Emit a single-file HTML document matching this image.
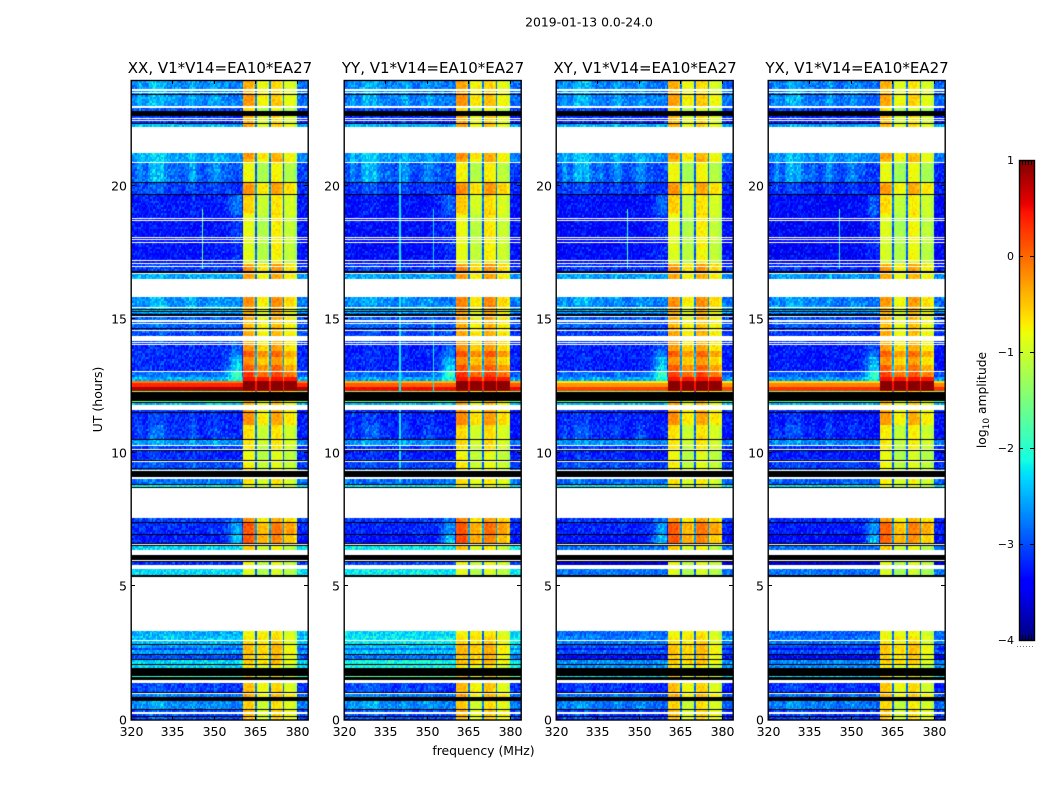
<!DOCTYPE html>
<html>
<head>
<meta charset="utf-8">
<title>2019-01-13 0.0-24.0</title>
<style>
html,body{margin:0;padding:0;background:#fff;}
#figure{position:relative;width:1050px;height:800px;overflow:hidden;background:#fff;font-family:"DejaVu Sans","Liberation Sans",sans-serif;}
canvas{position:absolute;display:block;}
svg{position:absolute;left:0;top:0;}
svg text{font-family:"DejaVu Sans","Liberation Sans",sans-serif;fill:#000;}
</style>
</head>
<body>
<div id="figure">
<svg id="overlay" width="1050" height="800">
<text x="589" y="26.5" font-size="12.4" text-anchor="middle">2019-01-13 0.0-24.0</text>
<text transform="translate(102,399.5) rotate(-90)" font-size="12.5" text-anchor="middle">UT (hours)</text>
<text x="483.5" y="755" font-size="12.4" text-anchor="middle">frequency (MHz)</text>
<text transform="translate(986,400) rotate(-90)" font-size="12.3" text-anchor="middle">log<tspan font-size="9" dy="3">10</tspan><tspan dy="-3"> amplitude</tspan></text>
</svg>
</div>
<script>
// ---- Chart data ----
const polarizations = ["XX", "YY", "XY", "YX"];
const baselineLabel = "V1*V14=EA10*EA27";
const xTicks = [320, 335, 350, 365, 380];
const yTicks = [0, 5, 10, 15, 20];
const colorTicks = [1, 0, -1, -2, -3, -4];
const freqRange = [320, 384];
const timeRange = [0, 23.95];
const colorRange = [-4, 1];

// Flagged time spans (hours) shown white
const whiteSpans = [[0.243,0.281],[0.955,0.993],[1.367,1.479],[2.978,3.004],[3.315,5.348],[5.663,5.787],[5.963,6.0],[6.161,6.375],[6.547,6.584],[7.547,8.670],[9.007,9.082],[9.307,9.345],[9.644,9.682],[10.094,10.131],[10.243,10.281],[11.592,11.779],[13.015,13.052],[14.015,14.052],[14.101,14.139],[14.165,14.363],[14.551,14.588],[14.813,14.839],[14.888,14.963],[15.075,15.112],[15.419,15.461],[15.813,16.498],[16.685,16.723],[16.948,16.985],[17.06,17.097],[17.172,17.21],[17.846,17.884],[17.959,17.985],[18.034,18.071],[18.67,18.708],[18.745,18.783],[20.843,20.869],[21.217,22.191],[22.416,22.453],[22.491,22.528],[22.903,22.978],[23.464,23.502],[23.539,23.596]];
// Time spans (hours) shown black
const blackSpans = [[0.105,0.142],[0.356,0.393],[0.704,0.854],[0.993,1.041],[1.479,1.603],[1.64,1.94],[2.067,2.105],[2.255,2.292],[2.416,2.453],[2.816,2.854],[5.348,5.412],[5.91,5.963],[6.0,6.161],[6.509,6.547],[6.584,6.622],[6.936,6.974],[7.386,7.423],[8.67,8.719],[8.809,8.846],[9.082,9.307],[9.382,9.419],[9.682,9.719],[10.056,10.094],[10.468,10.506],[11.479,11.517],[11.854,11.891],[11.936,12.277],[14.614,14.663],[15.112,15.187],[15.262,15.3],[15.337,15.375],[16.723,16.798],[19.644,19.682],[20.105,20.131],[22.303,22.33],[22.614,22.801],[23.393,23.416]];

// Amplitude segments in time: start hour and levels (log10 amplitude)
const levelStart = [0,.4,.85,1.04,1.55,1.9,2.1,2.25,2.45,2.6,2.7,2.85,3.13,3.17,5.4,5.79,6.38,6.62,6.97,7.42,8.72,8.85,9.34,9.72,10.13,10.28,10.5,11.0,11.52,11.78,11.85,12.28,12.46,12.6,12.67,12.85,13.05,13.3,13.55,13.8,14.05,14.66,15.19,15.46,16.5,16.8,17.1,18.9,19.68,20.13,20.87,22.19,22.33,22.8,22.98,23.42];
const levelLow = [-3.05,-2.8,-2.8,-3.15,-1.9,-2.3,-2.3,-3.0,-2.6,-3.0,-2.6,-2.4,-3.0,-2.5,-2.3,-3.15,-2.3,-3.25,-3.15,-3.05,-2.2,-2.8,-3.05,-3.25,-3.15,-2.7,-3.25,-3.25,-3.1,-2.4,-1.5,.8,.35,-.1,-2.5,-2.9,-3.2,-3.2,-3.2,-3.2,-3.05,-2.95,-2.4,-2.75,-2.6,-3.15,-3.3,-3.3,-3.15,-3.05,-2.7,-2.5,-3.15,-3.05,-2.8,-2.8];
const levelHigh = [-.75,-.85,-.65,-.75,-.85,-.95,-.7,-.7,-.65,-.65,-.65,-.8,-.85,-.9,-1.05,-.95,-.9,-.3,-.3,-.6,-1,-.85,-.95,-1,-.9,-.85,-.85,-.5,-.7,-.7,-.7,.95,.95,.95,.45,.05,-.15,-.45,-.15,-.5,-.6,-.65,-.7,-.5,-.6,-.5,-1.0,-.85,-.5,-1.0,-.6,-.7,-.75,-1,-.65,-.75];
const levelRipple = [.2,.4,.2,.3,0,0,0,0,0,0,0,0,0,0,0,0,0,0,0,0,0,0,.2,.2,.2,.3,.5,.3,0,0,0,0,0,0,0,.2,.1,.1,.1,.1,.1,.2,0,.4,.2,.2,0,.1,.3,.8,.5,.2,.1,.2,.5,.5];
const levelRamp = [0,0,0,0,0,0,0,0,0,0,0,0,0,0,0,0,0,.9,.6,.3,0,0,0,0,0,0,0,0,0,0,0,0,0,0,.5,1.1,1.0,.8,.5,.3,.1,0,0,0,0,0,.2,.5,0,0,0,0,0,0,0,0];

// Per-MHz spectral shapes starting at 320 MHz
const rippleSpectrum = [.1,.2,.5,.6,.3,.2,.6,.8,.9,.7,.8,.9,.5,.3,.2,.3,.4,.2,.1,.2,.3,.6,.7,.4,.2,.1,.1,.2,.3,.4,.6,.5,.3,.2,.3,.1,.1,.1,.1,.1];
const rampSpectrum = [0,0,0,0,0,0,0,0,0,0,0,0,0,0,0,0,0,0,0,0,0,0,0,0,0,0,0,0,0,0,0,0,.05,.1,.2,.45,.75,.95,1,.9];
// Per-MHz shape of the strong band, 360 to 379 MHz
const highSpectrum = [.15,.2,.2,.2,.05,-.2,-.05,-.1,-.05,-.2,.05,.15,.15,.15,.05,-.2,-.1,-.1,-.1,-.3];
// Hour-by-hour offset of each 5 MHz sub-band
const hourSub1 = [.1,.1,0,-.1,0,-.05,.2,.2,0,0,0,.1,0,.05,.05,.1,.1,-.1,-.05,.1,0,.15,.15,.2];
const hourSub2 = [-.1,.05,.15,.2,0,-.1,0,-.05,0,-.05,-.1,-.1,0,0,-.05,-.15,-.1,-.05,-.1,-.1,-.15,0,-.1,0];
const hourSub3 = [.05,.05,.1,.05,0,-.05,0,.1,0,-.05,.05,.05,0,.05,.05,.15,.1,.1,.15,.05,.1,.05,0,0];
const hourSub4 = [.05,-.05,0,.05,0,0,-.1,.1,0,0,0,-.05,0,-.05,0,0,-.05,.05,.05,0,-.05,-.1,-.05,-.05];
const gapFreqs = [365, 370, 375];
const gapLevel = -2.75;
const bandEdges = [360.4, 380];

// Per-polarization offsets
const lowOffsetUnder1h5 = [0, 0, -.1, -.1];
const lowOffset1h5To3h5 = [0, .2, -.35, -.4];
const lowOffset5To6h5 = [0, .1, -.5, -.5];
const lateLowOffset = [0, -.05, -.05, -.1];
const flareOffset = [0, -.25, -.55, -.4];
const highOffset = [0, .05, 0, -.05];

// Narrow-band interference: polarization index, MHz, start hour, end hour, level
const rfiPol = [0, 1, 1, 1, 2, 3];
const rfiFreq = [345.6, 339.9, 351.8, 351.8, 345.6, 345.6];
const rfiStart = [16.9, 8.9, 11.5, 16.9, 16.9, 16.9];
const rfiEnd = [19.1, 21.0, 15.0, 19.1, 19.1, 19.1];
const rfiLevel = [-1.6, -2.2, -2.2, -2.3, -1.9, -2.1];

// Hand-read speckle deviations, used as pixel texture
const speckle = [-.3,.1,-.2,.4,-.1,-.35,.25,0,-.25,.5,-.15,.05,-.4,.2,-.05,.35,-.3,.1,-.2,.6,-.1,-.35,.15,-.25,.3,0,-.4,.2,-.15,.45,-.05,-.3,.1,-.2,.25,-.35,.05,.55,-.1,-.25,.15,-.4,.3,0,-.2,.4,-.3,.1,-.15,.2,-.35,.5,-.05,-.25,.1,.3,-.4,0,-.1,.35,-.2,.15,-.3];

// ---- Axis functions ----
const panelLefts = [131, 344, 556, 768];
const panelWidth = 177;
const panelTop = 80;
const panelHeight = 640;
const cellMHz = 0.5;
const cellHours = 0.075;
const yOf = function (t) { return panelTop + panelHeight * (1 - (t - timeRange[0]) / (timeRange[1] - timeRange[0])); };
const xOf = function (f) { return panelWidth * (f - freqRange[0]) / (freqRange[1] - freqRange[0]); };
const colorY = function (v) { return 160 + 480 * (colorRange[1] - v) / (colorRange[1] - colorRange[0]); };

function ramp(x, pts) {
  for (let i = 1; i < pts.length; i++) {
    if (x <= pts[i][0]) {
      const a = pts[i - 1], b = pts[i];
      return a[1] + (b[1] - a[1]) * (x - a[0]) / (b[0] - a[0]);
    }
  }
  return pts[pts.length - 1][1];
}
function jet(v) {
  const t = Math.max(0, Math.min(1, (v - colorRange[0]) / (colorRange[1] - colorRange[0])));
  const r = ramp(t, [[0, 0], [.35, 0], [.66, 1], [.89, 1], [1, .5]]);
  const g = ramp(t, [[0, 0], [.125, 0], [.375, 1], [.64, 1], [.91, 0], [1, 0]]);
  const b = ramp(t, [[0, .5], [.11, 1], [.34, 1], [.65, 0], [1, 0]]);
  return "rgb(" + Math.round(r * 255) + "," + Math.round(g * 255) + "," + Math.round(b * 255) + ")";
}
function segmentAt(t) {
  let k = 0;
  for (let i = 0; i < levelStart.length; i++) {
    if (levelStart[i] <= t) k = i;
  }
  return k;
}
function lowOffsetAt(p, t) {
  if (t < 1.5) return lowOffsetUnder1h5[p];
  if (t < 3.5) return lowOffset1h5To3h5[p];
  if (t < 6.5) return lowOffset5To6h5[p];
  return lateLowOffset[p];
}
function cellValue(p, f, t, row, col) {
  const k = segmentAt(t);
  const noise = speckle[(col * 31 + row * 17 + ((col * row) % 13) * 5 + p * 11) % speckle.length];
  const mhz = Math.floor(f - freqRange[0]);
  for (let i = 0; i < rfiPol.length; i++) {
    if (rfiPol[i] === p && Math.abs(f - rfiFreq[i]) < 0.26 && t >= rfiStart[i] && t <= rfiEnd[i]) return rfiLevel[i];
  }
  if (f >= bandEdges[0] && f < bandEdges[1]) {
    const strong = levelHigh[k] > .4;
    for (let i = 0; i < gapFreqs.length; i++) {
      if (f >= gapFreqs[i] - 0.25 && f < gapFreqs[i] + 0.25) {
        if (strong) return levelHigh[k] - .5;
        return gapLevel + noise * .4 + (levelHigh[k] + .6) * .5;
      }
    }
    const shape = highSpectrum[Math.floor(f - bandEdges[0] + .4)] || 0;
    const sub = Math.min(3, Math.floor((f - 360) / 5));
    const hourRow = [hourSub1, hourSub2, hourSub3, hourSub4][sub];
    const patch = hourRow[Math.floor(t)] || 0;
    if (strong) return levelHigh[k] + shape * .1 + noise * .05;
    return levelHigh[k] + shape + patch + highOffset[p] + noise * .3;
  }
  let v = levelLow[k] + lowOffsetAt(p, t);
  if (t >= 12.28 && t < 12.67) v += flareOffset[p];
  if (f < bandEdges[0]) {
    v += levelRipple[k] * (rippleSpectrum[mhz] || 0);
    v += levelRamp[k] * (rampSpectrum[mhz] || 0);
  }
  return v + noise * (v > -1 ? .08 : .65);
}

// ---- Drawing ----
const fig = document.getElementById("figure");
const svg = document.getElementById("overlay");
const NS = "http://www.w3.org/2000/svg";

function line(parent, x1, y1, x2, y2, w) {
  const el = document.createElementNS(NS, "line");
  el.setAttribute("x1", x1);
  el.setAttribute("y1", y1);
  el.setAttribute("x2", x2);
  el.setAttribute("y2", y2);
  el.setAttribute("stroke", "#000");
  el.setAttribute("stroke-width", w || 1);
  parent.appendChild(el);
  return el;
}
function label(parent, x, y, s, anchor, size) {
  const el = document.createElementNS(NS, "text");
  el.setAttribute("x", x);
  el.setAttribute("y", y);
  el.setAttribute("font-size", size || 12.5);
  el.setAttribute("text-anchor", anchor);
  el.textContent = s;
  parent.appendChild(el);
  return el;
}

polarizations.forEach(function (pol, p) {
  const left = panelLefts[p];
  const cv = document.createElement("canvas");
  cv.width = panelWidth;
  cv.height = panelHeight;
  cv.style.left = left + "px";
  cv.style.top = panelTop + "px";
  
  
  fig.insertBefore(cv, svg);
  const ctx = cv.getContext("2d");
  ctx.fillStyle = "#fff";
  ctx.fillRect(0, 0, panelWidth, panelHeight);
  const cols = Math.round((freqRange[1] - freqRange[0]) / cellMHz);
  const rows = Math.ceil((timeRange[1] - timeRange[0]) / cellHours);
  for (let r = 0; r < rows; r++) {
    const t0 = timeRange[0] + r * cellHours;
    const t1 = t0 + cellHours;
    const yTop = Math.round(yOf(t1) - panelTop);
    const yBot = Math.round(yOf(t0) - panelTop);
    for (let c = 0; c < cols; c++) {
      const f0 = freqRange[0] + c * cellMHz;
      const xa = Math.round(xOf(f0));
      const xb = Math.round(xOf(f0 + cellMHz));
      ctx.fillStyle = jet(cellValue(p, f0, t0 + cellHours / 2, r, c));
      ctx.fillRect(xa, yTop, xb - xa, yBot - yTop);
    }
  }
  function paintSpans(spans, color) {
    ctx.fillStyle = color;
    spans.forEach(function (s) {
      const a = Math.round(yOf(s[1]) - panelTop);
      const b = Math.round(yOf(s[0]) - panelTop);
      ctx.fillRect(0, a, panelWidth, Math.max(1, b - a));
    });
  }
  paintSpans(blackSpans, "#000");
  paintSpans(whiteSpans, "#fff");

  const g = document.createElementNS(NS, "g");
  
  
  svg.appendChild(g);

  const frame = document.createElementNS(NS, "rect");
  frame.setAttribute("x", left + .2);
  frame.setAttribute("y", panelTop + .5);
  frame.setAttribute("width", panelWidth);
  frame.setAttribute("height", panelHeight - .5);
  frame.setAttribute("fill", "none");
  frame.setAttribute("stroke", "#000");
  frame.setAttribute("stroke-width", "1.4");
  
  
  g.appendChild(frame);

  const title = label(g, left + panelWidth / 2 + .5, 73, pol + ", " + baselineLabel, "middle", 15);
  
  

  xTicks.forEach(function (v) {
    const x = Math.round(left + xOf(v)) + .5;
    line(g, x, panelTop, x, panelTop + 4);
    line(g, x, panelTop + panelHeight, x, panelTop + panelHeight - 4);
    const tl = label(g, x, 736, String(v), "middle");
    
    
  });
  yTicks.forEach(function (v) {
    const y = Math.round(yOf(v)) - .5;
    line(g, left, y, left + 4, y);
    line(g, left + panelWidth, y, left + panelWidth - 4, y);
    const tl = label(g, left - 4, y + 5, String(v), "end");
    
    
  });
});

// ---- Colorbar ----
const cb = document.createElement("canvas");
cb.width = 15;
cb.height = 480;
cb.style.left = "1019px";
cb.style.top = "160px";


fig.insertBefore(cb, svg);
const cbx = cb.getContext("2d");
for (let i = 0; i < 480; i++) {
  cbx.fillStyle = jet(colorRange[1] - (colorRange[1] - colorRange[0]) * (i + .5) / 480);
  cbx.fillRect(0, i, 15, 1);
}
const cbGroup = document.createElementNS(NS, "g");


svg.appendChild(cbGroup);
const cbFrame = document.createElementNS(NS, "rect");
cbFrame.setAttribute("x", 1019.5);
cbFrame.setAttribute("y", 160.5);
cbFrame.setAttribute("width", 15);
cbFrame.setAttribute("height", 480);
cbFrame.setAttribute("fill", "none");
cbFrame.setAttribute("stroke", "#000");
cbFrame.setAttribute("stroke-width", "1.4");


cbGroup.appendChild(cbFrame);
colorTicks.forEach(function (v) {
  const y = Math.round(colorY(v)) + .5;
  line(cbGroup, 1019, y, 1023, y);
  line(cbGroup, 1034, y, 1030, y);
  const s = v < 0 ? "\u2212" + Math.abs(v) : String(v);
  const tl = label(cbGroup, 1014, y + 3.5, s, "end", 11);
  
  
});
[1022, 1025, 1028, 1031].forEach(function (x) {
  line(cbGroup, x + .5, 160, x + .5, 165);
  line(cbGroup, x + .5, 635, x + .5, 640);
});
const cbDots = line(cbGroup, 1017, 646.5, 1035, 646.5);
cbDots.setAttribute("stroke", "#777");
cbDots.setAttribute("stroke-dasharray", "1 2");


</script>
</body>
</html>
